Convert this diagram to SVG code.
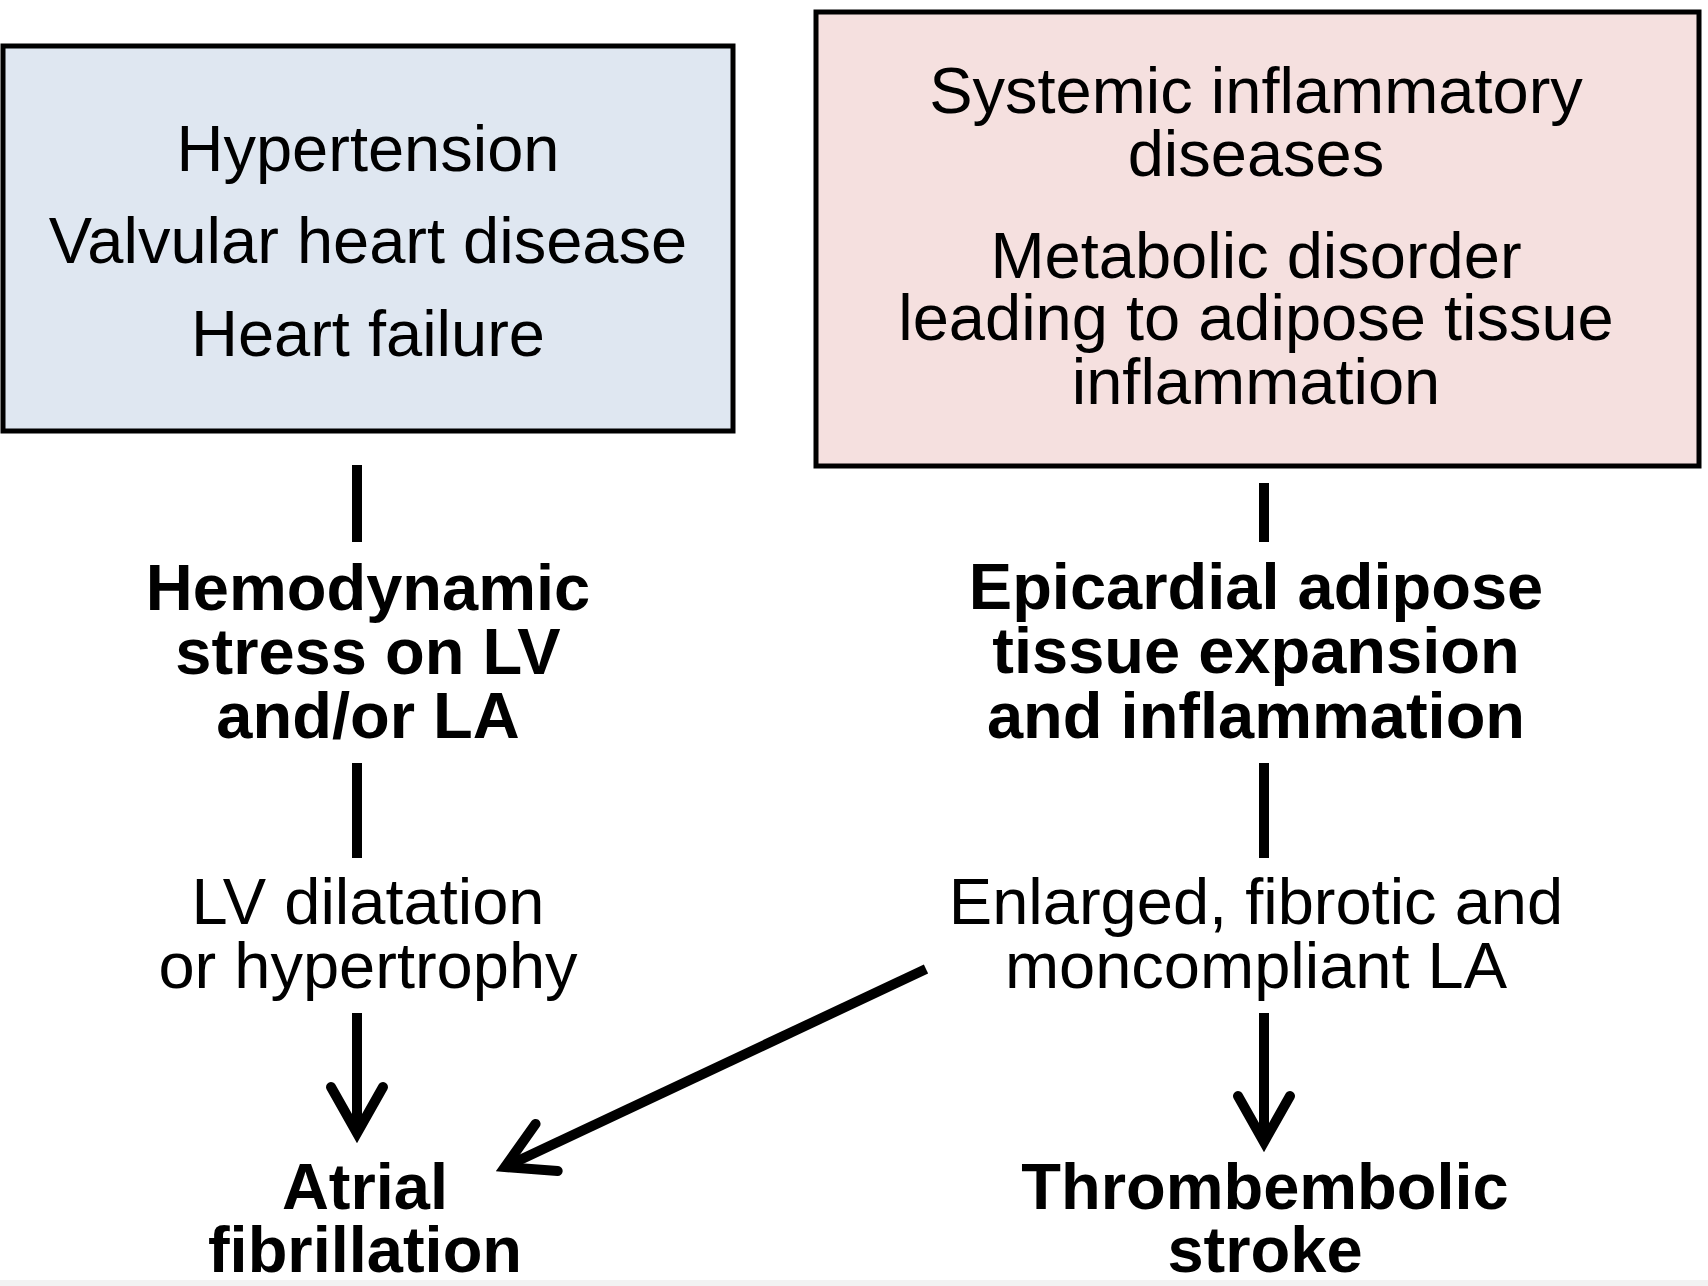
<svg xmlns="http://www.w3.org/2000/svg" width="1708" height="1286" viewBox="0 0 1708 1286">
<defs>
<style>
text{font-family:"Liberation Sans",Arial,Helvetica,sans-serif;font-size:65px;fill:#000;text-anchor:middle}
.b{font-weight:bold}
.box{stroke:#000;stroke-width:5}
.ln{stroke:#000;stroke-width:10;fill:none}
</style>
<marker id="ah" markerUnits="userSpaceOnUse" orient="auto" markerWidth="80" markerHeight="80" refX="0" refY="0" viewBox="-60 -40 80 80" overflow="visible">
<path d="M-46,-26 L0,0 L-46,26" fill="none" stroke="#000" stroke-width="10" stroke-linecap="round" stroke-linejoin="miter"/>
</marker>
</defs>
<rect width="1708" height="1286" fill="#fff"/>
<rect y="1280" width="1708" height="6" fill="#f2f2f2"/>
<g id="risk-left">
<rect class="box" x="3" y="46" width="730" height="385" fill="#dfe7f1"/>
<text x="368" y="171">Hypertension</text>
<text x="368" y="263">Valvular heart disease</text>
<text x="368" y="356">Heart failure</text>
</g>
<g id="risk-right">
<rect class="box" x="816" y="12" width="883" height="454" fill="#f5e0df"/>
<text x="1256" y="113">Systemic inflammatory</text>
<text x="1256" y="176">diseases</text>
<text x="1256" y="278">Metabolic disorder</text>
<text x="1256" y="340">leading to adipose tissue</text>
<text x="1256" y="404">inflammation</text>
</g>
<g id="hemodynamic">
<text class="b" x="368" y="610">Hemodynamic</text>
<text class="b" x="368" y="674">stress on LV</text>
<text class="b" x="368" y="738">and/or LA</text>
</g>
<g id="epicardial">
<text class="b" x="1256" y="609">Epicardial adipose</text>
<text class="b" x="1256" y="673">tissue expansion</text>
<text class="b" x="1256" y="738">and inflammation</text>
</g>
<g id="lv-dilatation">
<text x="368" y="924">LV dilatation</text>
<text x="368" y="988">or hypertrophy</text>
</g>
<g id="enlarged-la">
<text x="1256" y="924">Enlarged, fibrotic and</text>
<text x="1256" y="988">moncompliant LA</text>
</g>
<g id="af">
<text class="b" x="365" y="1209">Atrial</text>
<text class="b" x="365" y="1272">fibrillation</text>
</g>
<g id="stroke">
<text class="b" x="1265" y="1209">Thrombembolic</text>
<text class="b" x="1265" y="1272">stroke</text>
</g>
<g id="connectors">
<line class="ln" x1="357" y1="465" x2="357" y2="542"/>
<line class="ln" x1="357" y1="763" x2="357" y2="858"/>
<line class="ln" x1="357" y1="1013" x2="357" y2="1133" marker-end="url(#ah)"/>
<line class="ln" x1="1264" y1="483" x2="1264" y2="542"/>
<line class="ln" x1="1264" y1="763" x2="1264" y2="858"/>
<line class="ln" x1="1264" y1="1013" x2="1264" y2="1142" marker-end="url(#ah)"/>
<line class="ln" x1="926" y1="969" x2="505" y2="1167" marker-end="url(#ah)"/>
</g>
</svg>
